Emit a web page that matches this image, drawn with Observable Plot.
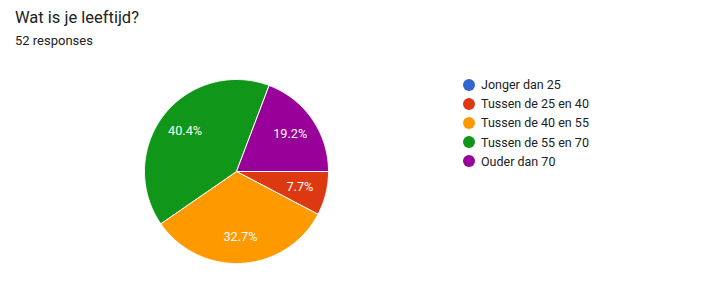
<!DOCTYPE html>
<html><head><meta charset="utf-8">
<script src="https://cdn.jsdelivr.net/npm/d3@7"></script>
<script src="https://cdn.jsdelivr.net/npm/@observablehq/plot@0.6"></script>
<style>
body{margin:0;background:#fff;font-family:Roboto,Arial,sans-serif;}
#wrap{position:relative;width:702px;height:296px;overflow:hidden;background:#fff;}
#chart{position:absolute;left:0;top:0;}
.t{position:absolute;white-space:nowrap;line-height:1;color:#212121;}
#title{left:15px;top:10px;font-size:16.5px;}
#sub{left:15px;top:34px;font-size:13px;}
#legend{position:absolute;left:463px;top:75px;}
.li{display:flex;align-items:center;height:19.2px;font-size:12.5px;color:#222;}
.sw{width:12px;height:12px;border-radius:50%;margin-right:6px;flex:none;}
</style></head><body>
<div id="wrap"><div id="chart"></div>
<div class="t" id="title">Wat is je leeftijd?</div>
<div class="t" id="sub">52 responses</div>
<div id="legend"></div></div>
<script>
const title = "Wat is je leeftijd?";
const subtitle = "52 responses";
const categories = ["Jonger dan 25","Tussen de 25 en 40","Tussen de 40 en 55","Tussen de 55 en 70","Ouder dan 70"];
const counts = [0, 4, 17, 21, 10];
const colors = ["#3366cc","#dc3912","#ff9900","#109618","#990099"];

const total = d3.sum(counts);
const arcs = d3.pie().sort(null).startAngle(Math.PI/2).endAngle(Math.PI/2 + 2*Math.PI)(counts);
const pts = [];
const labels = [];
arcs.forEach((a, i) => {
  if (a.endAngle - a.startAngle <= 0) return;
  const cat = categories[i];
  pts.push({cat, x:0, y:0});
  const n = Math.max(2, Math.ceil((a.endAngle - a.startAngle) / 0.01));
  for (let k = 0; k <= n; k++) {
    const t = a.startAngle + (a.endAngle - a.startAngle) * k / n;
    pts.push({cat, x: Math.sin(t), y: Math.cos(t)});
  }
  pts.push({cat, x:0, y:0});
  const m = (a.startAngle + a.endAngle) / 2;
  labels.push({cat, x: 0.71*Math.sin(m), y: 0.71*Math.cos(m), text: (counts[i]/total*100).toFixed(1) + "%"});
});

const W = 702, H = 296, cx = 236, cy = 171, R = 92;
const chart = Plot.plot({
  width: W, height: H, margin: 0,
  x: {domain: [-cx/R, (W-cx)/R], axis: null},
  y: {domain: [-(H-cy)/R, cy/R], axis: null},
  color: {domain: categories, range: colors},
  style: {background: "transparent"},
  marks: [
    Plot.line(pts, {x:"x", y:"y", z:"cat", fill:"cat", stroke:"white", strokeWidth:1, strokeLinejoin:"round"}),
    Plot.text(labels, {x:"x", y:"y", text:"text", fill:"white", fontSize:12.7, fontFamily:"Roboto"})
  ]
});
document.getElementById("chart").appendChild(chart);

const lg = d3.select("#legend");
categories.forEach((c, i) => {
  const row = lg.append("div").attr("class","li");
  row.append("div").attr("class","sw").style("background", colors[i]);
  row.append("span").text(c);
});
</script></body></html>
